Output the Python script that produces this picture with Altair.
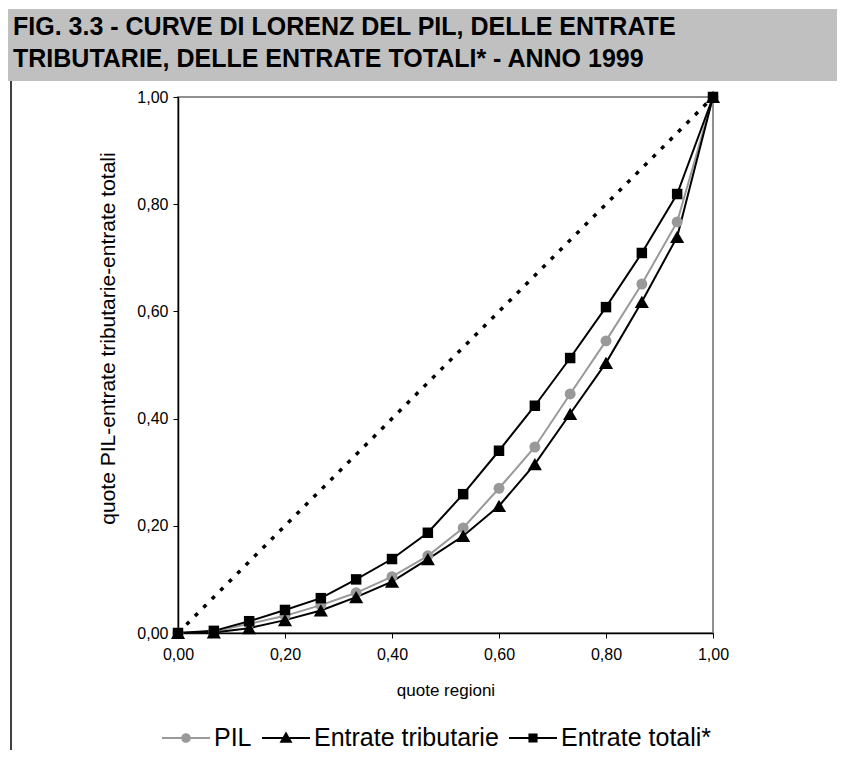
import altair as alt
import pandas as pd

# ---- data ----
quote_regioni = [0.000, 0.067, 0.133, 0.200, 0.267, 0.333, 0.400, 0.467,
                 0.533, 0.600, 0.667, 0.733, 0.800, 0.867, 0.933, 1.000]
equidistribuzione = [0.000, 0.067, 0.133, 0.200, 0.267, 0.333, 0.400, 0.467,
                     0.533, 0.600, 0.667, 0.733, 0.800, 0.867, 0.933, 1.000]
pil = [0.000, 0.003, 0.017, 0.032, 0.052, 0.075, 0.105, 0.144,
       0.196, 0.270, 0.347, 0.446, 0.545, 0.651, 0.767, 1.000]
entrate_tributarie = [0.000, 0.001, 0.009, 0.024, 0.042, 0.067, 0.096, 0.138,
                      0.181, 0.237, 0.315, 0.409, 0.504, 0.618, 0.739, 1.000]
entrate_totali = [0.000, 0.004, 0.022, 0.043, 0.065, 0.100, 0.138, 0.187,
                  0.259, 0.340, 0.424, 0.513, 0.608, 0.709, 0.819, 1.000]

series_names = ["PIL", "Entrate tributarie", "Entrate totali*"]
series_colors = ["#999999", "#000000", "#000000"]
series_shapes = ["circle", "triangle-up", "square"]
series_marker_sizes = [120, 200, 110]
tick_values = [0.0, 0.2, 0.4, 0.6, 0.8, 1.0]

title_lines = ["FIG. 3.3 - CURVE DI LORENZ DEL PIL, DELLE ENTRATE",
               "TRIBUTARIE, DELLE ENTRATE TOTALI* - ANNO 1999"]
x_title = "quote regioni"
y_title = "quote PIL-entrate tributarie-entrate totali"

rows = []
for name, vals in zip(series_names, [pil, entrate_tributarie, entrate_totali]):
    for xv, yv in zip(quote_regioni, vals):
        rows.append({"x": xv, "y": yv, "serie": name})
df = pd.DataFrame(rows)
diag = pd.DataFrame({"x": quote_regioni, "y": equidistribuzione})
one = pd.DataFrame({"a": [0]})

FONT = "Liberation Sans"
lab = "replace(format(datum.value, '.2f'), '.', ',')"

xscale = alt.Scale(domain=[0, 1], nice=False, zero=False)
yscale = alt.Scale(domain=[0, 1], nice=False, zero=False)

xaxis = alt.Axis(values=tick_values, labelExpr=lab, title=x_title, grid=False,
                 domainColor="black", domainWidth=1.5, tickColor="black", tickSize=5,
                 labelFlush=False,
                 labelFont=FONT, labelFontSize=16, labelColor="black", labelPadding=8,
                 titleFont=FONT, titleFontSize=17, titleFontWeight="normal",
                 titleColor="black", titleBaseline="middle", titleY=57)
yaxis = alt.Axis(values=tick_values, labelExpr=lab, title=y_title, grid=False,
                 domainColor="black", domainWidth=1.5, tickColor="black", tickSize=5,
                 labelFlush=False,
                 labelFont=FONT, labelFontSize=16, labelColor="black", labelPadding=5,
                 titleFont=FONT, titleFontSize=21, titleFontWeight="normal",
                 titleColor="black", titleAngle=270, titleBaseline="middle",
                 titleAlign="center", titleX=-70, titleY=241)

# legend symbols: a line segment with the series marker on it
bar = "M-1,-0.045H1V0.045H-1Z"
p_circle = bar + "M-0.2,0A0.2,0.2 0 1,1 0.2,0A0.2,0.2 0 1,1 -0.2,0Z"
p_tri = bar + "M0,-0.27L0.27,0.2L-0.27,0.2Z"
p_sq = bar + "M-0.19,-0.19H0.19V0.19H-0.19Z"
sym_expr = (f"datum.value == 'PIL' ? '{p_circle}' : "
            f"(datum.value == 'Entrate tributarie' ? '{p_tri}' : '{p_sq}')")
col_expr = "datum.value == 'PIL' ? '#999999' : '#000000'"

legend = alt.Legend(title=None, orient="none", direction="horizontal",
                    legendX=-16, legendY=617, padding=0,
                    symbolType=alt.ExprRef(expr=sym_expr), symbolSize=2304,
                    symbolStrokeWidth=0,
                    symbolFillColor=alt.ExprRef(expr=col_expr),
                    symbolStrokeColor=alt.ExprRef(expr=col_expr),
                    labelFont=FONT, labelFontSize=25, labelColor="black",
                    labelLimit=0, labelOffset=4, columnPadding=10)

color = alt.Color("serie:N", scale=alt.Scale(domain=series_names, range=series_colors),
                  legend=legend)

title_bar = alt.Chart(one).mark_rect(color="#c0c0c0").encode(
    x=alt.value(-172), x2=alt.value(667), y=alt.value(-88), y2=alt.value(-16))
title_text = alt.Chart(one).mark_text(
    font=FONT, fontWeight="bold", fontSize=25, align="left",
    baseline="alphabetic", lineHeight=32, color="black").encode(
    x=alt.value(-165), y=alt.value(-62), text=alt.value(title_lines))
left_rule = alt.Chart(one).mark_rule(color="#404040", strokeWidth=2).encode(
    x=alt.value(-167), y=alt.value(-16), y2=alt.value(700))

diag_line = alt.Chart(diag).mark_line(color="black", strokeWidth=3.5,
                                      strokeDash=[4, 8]).encode(
    x=alt.X("x:Q", scale=xscale, axis=xaxis),
    y=alt.Y("y:Q", scale=yscale, axis=yaxis))

lines = alt.Chart(df).mark_line(strokeWidth=2).encode(
    x=alt.X("x:Q", scale=xscale),
    y=alt.Y("y:Q", scale=yscale),
    color=color, detail="serie:N")

point_layers = []
for name, col, shp, sz in zip(series_names, series_colors, series_shapes,
                              series_marker_sizes):
    point_layers.append(
        alt.Chart(df).transform_filter(alt.datum.serie == name)
        .mark_point(filled=True, opacity=1, strokeWidth=0, shape=shp, size=sz, color=col)
        .encode(x=alt.X("x:Q", scale=xscale), y=alt.Y("y:Q", scale=yscale)))

chart = alt.layer(title_bar, left_rule, title_text, diag_line, lines,
                  *point_layers).properties(
    width=535, height=536,
    padding={"left": 170, "top": 89, "right": 124, "bottom": 117},
    autosize=alt.AutoSizeParams(type="none"),
).configure_view(stroke="#909090", strokeWidth=2)

chart.save("out.html", embed_options={"renderer": "svg", "actions": False})
